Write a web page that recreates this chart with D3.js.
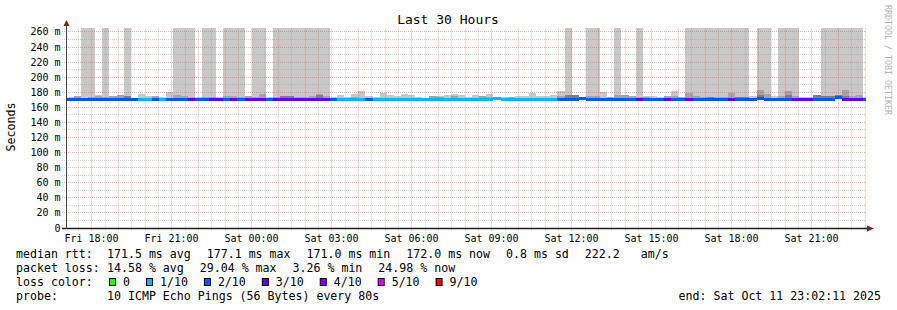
<!DOCTYPE html>
<html><head><meta charset="utf-8">
<script src="https://cdn.jsdelivr.net/npm/d3@7"></script>
<style>
body{margin:0;background:#fff}
svg{display:block}
text{font-family:"DejaVu Sans Mono",monospace;fill:#000}
</style>
</head><body>
<svg id="c" width="897" height="310"></svg>
<script>
// ---------- data ----------
const chartTitle = "Last 30 Hours";
const yAxisTitle = "Seconds";
const watermark = "RRDTOOL / TOBI OETIKER";
const startTime = new Date(2025, 9, 10, 17, 2, 11);
const endTime = new Date(2025, 9, 11, 23, 2, 11);
const firstColumnTime = new Date(2025, 9, 10, 17, 4, 0);
const columnMinutes = 16;

const yTickValues = [0, 20, 40, 60, 80, 100, 120, 140, 160, 180, 200, 220, 240, 260];
const yTickLabels = ["0", "20 m", "40 m", "60 m", "80 m", "100 m", "120 m", "140 m", "160 m", "180 m", "200 m", "220 m", "240 m", "260 m"];
const xTickTimes = [
  new Date(2025, 9, 10, 18), new Date(2025, 9, 10, 21), new Date(2025, 9, 11, 0),
  new Date(2025, 9, 11, 3), new Date(2025, 9, 11, 6), new Date(2025, 9, 11, 9),
  new Date(2025, 9, 11, 12), new Date(2025, 9, 11, 15), new Date(2025, 9, 11, 18),
  new Date(2025, 9, 11, 21)];
const xTickLabels = ["Fri 18:00", "Fri 21:00", "Sat 00:00", "Sat 03:00", "Sat 06:00", "Sat 09:00",
  "Sat 12:00", "Sat 15:00", "Sat 18:00", "Sat 21:00"];

// smoke (ms): lowest ping, outer / middle / inner upper ping levels per 16-min column
const smokeBase = 171.0;
const smokeOuter = [
  174,175,300,300,177,300,175,176.4,300,172, 178,175,175,174,180.4,300,300,300,174,300,
  300,174,300,300,300,175,300,300,174,300, 300,300,300,300,300,300,300,174,176.4,174,
  178,181.7,175,174,179,176.4,175,178,176.4,174, 173,175,175,176.4,178,176.4,174,176.4,175,178,
  174,174,174,175,175,179,175,175,176.4,181.7, 300,176.4,174,300,300,180.4,174,300,176.4,175,
  300,175,175,174,175,181.7,174,300,300,300, 300,300,300,300,300,300,175,300,300,175,
  300,300,300,174,174,176.4,300,300,300,300, 300,300,174];
const smokeMiddle = [
  171,175,173,174,175,174,175,176.4,174,171, 171,171,175,171,173,176.4,175,174,171,174,
  174,171,175,175,174,175,174,177.8,171,174, 175,175,174,174,175,178,175,171,171,171,
  174,171,171,171,171,171,171,171,171,171, 171,175,174,171,175,171,171,171,175,174,
  171,171,174,171,171,171,171,171,171,175, 176.4,176.4,171,175,175,171,174,176.4,176.4,175,
  174,174,171,171,175,175,174,179,175,174, 174,174,173.5,179,174,174,171,183,177.8,171,
  175,181.7,175,171,171,176.4,175,175,176.4,183, 175,176.4,171];
const smokeInner = [
  171,171,171,171,171,171,171,171,174.5,171, 171,171,171,171,171,171,171,171,171,171,
  171,171,171,171,171,171,171,171,171,171, 175,175,171,171,171,176,171,171,171,171,
  171,171,171,171,171,171,171,171,171,171, 171,171,171,171,171,171,171,171,171,171,
  171,171,171,171,171,171,171,171,171,171, 176.4,176.4,171,171,171,171,171,171,171,171,
  171,171,171,171,171,171,171,171,171,171, 174,171,171,171,174,174,171,176,171,171,
  171,176.4,171,171,171,176.4,175,175,176.4,175, 171,171,171];
const medianMs = [
  171.5,171.5,171.5,171.5,171.5,171.5,171.5,171.5,171.5,171.5, 171.5,171.5,171.5,171.5,171.5,171.5,171.5,171.5,171.5,171.5,
  171.5,171.5,171.5,171.5,171.5,171.5,171.5,171.0,171.5,171.5, 171.5,171.5,171.5,171.5,171.5,171.5,171.5,171.5,171.5,171.5,
  171.5,171.5,171.5,171.5,171.5,171.5,171.5,171.5,171.5,171.5, 171.5,171.5,171.5,171.5,171.5,171.5,171.5,171.5,171.5,171.5,
  172.3,171.5,171.5,171.5,171.5,171.5,171.5,171.5,171.5,171.5, 171.5,171.5,172.3,171.5,171.5,171.5,171.5,171.5,171.5,171.5,
  171.5,171.5,171.5,171.5,171.0,171.5,171.5,171.5,171.5,171.5, 171.5,171.5,171.5,171.5,171.5,171.5,171.5,172.3,171.5,171.5,
  171.5,171.5,171.5,171.5,171.5,171.5,171.5,171.5,174.0,171.5, 171.5,171.5,171.5];
const lossTenths = [
  2,2,2,2,2,2,2,2,2,2, 1,1,2,1,2,2,2,3,2,2,
  3,3,2,3,2,3,3,3,2,3, 3,3,3,3,3,3,3,2,1,1,
  1,1,2,1,1,1,1,1,1,1, 1,1,1,1,1,1,1,1,1,1,
  1,1,1,1,1,1,1,1,1,2, 2,2,2,2,2,2,2,2,2,2,
  3,2,2,2,3,2,2,3,2,2, 2,2,2,3,2,2,2,2,2,2,
  2,2,3,3,3,2,2,2,2,3, 3,3,2];

const lossLevels = [0, 1, 2, 3, 4, 5, 9];
const lossLabels = ["0", "1/10", "2/10", "3/10", "4/10", "5/10", "9/10"];
const lossColors = ["#26ff00", "#00b8ff", "#0059ff", "#5e00ff", "#7e00ff", "#dd00ff", "#ff0000"];

const rttStats = [171.5, 177.1, 171.0, 172.0];
const rttSd = 0.8;
const rttAmS = 222.2;
const lossStats = [14.58, 29.04, 3.26, 24.98];
const statNames = ["avg", "max", "min", "now"];
const probeText = "10 ICMP Echo Pings (56 Bytes) every 80s";
const endText = "end: Sat Oct 11 23:02:11 2025";

// ---------- drawing ----------
const svg = d3.select("#c");
const X0 = 66, X1 = 866, YTOP = 28, YBOT = 228;
const x = d3.scaleTime().domain([startTime, endTime]).range([X0, X1]);
const y = d3.scaleLinear().domain([0, 265.3]).range([YBOT, YTOP]);
const px = v => Math.floor(v) + 0.5;

svg.append("defs").append("clipPath").attr("id", "plot")
  .append("rect").attr("x", X0).attr("y", YTOP).attr("width", X1 - X0).attr("height", YBOT - YTOP);

const cols = medianMs.map((m, i) => {
  const t0 = d3.timeMinute.offset(firstColumnTime, i * columnMinutes);
  const t1 = d3.timeMinute.offset(firstColumnTime, (i + 1) * columnMinutes);
  return {x0: x(t0), x1: x(t1), m, loss: lossTenths[i],
    outer: smokeOuter[i], middle: smokeMiddle[i], inner: smokeInner[i]};
});

const gData = svg.append("g").attr("clip-path", "url(#plot)");
const shades = [["outer", "#c8c8c8"], ["middle", "#a4a4a4"], ["inner", "#7e7e7e"]];
shades.forEach(([key, col]) => {
  gData.append("g").selectAll("rect").data(cols.filter(d => d[key] > smokeBase)).join("rect")
    .attr("x", d => d.x0).attr("width", d => d.x1 - d.x0)
    .attr("y", d => Math.max(YTOP, y(d[key])))
    .attr("height", d => y(smokeBase) - Math.max(YTOP, y(d[key])))
    .attr("fill", col).attr("shape-rendering", "crispEdges");
});

// grid
const gGrid = svg.append("g");
const minorCol = "rgba(143,143,143,0.4)", majorCol = "rgba(222,79,79,0.45)";
d3.range(10, 261, 10).forEach(v => {
  const major = v % 20 === 0;
  gGrid.append("line").attr("x1", 62).attr("x2", X1).attr("y1", px(y(v))).attr("y2", px(y(v)))
    .attr("stroke", major ? majorCol : minorCol).attr("stroke-dasharray", "1,1");
});
const halfHours = d3.timeMinute.every(30).range(startTime, d3.timeMinute.offset(endTime, 1));
halfHours.forEach(t => {
  const major = t.getMinutes() === 0;
  gGrid.append("line").attr("x1", px(x(t))).attr("x2", px(x(t))).attr("y1", YTOP + 0.5).attr("y2", YBOT + 3)
    .attr("stroke", major ? majorCol : minorCol).attr("stroke-dasharray", "1,1");
});

// median line coloured by loss
svg.append("g").attr("clip-path", "url(#plot)").selectAll("rect").data(cols).join("rect")
  .attr("x", d => d.x0).attr("width", d => d.x1 - d.x0)
  .attr("y", d => y(d.m) - 1).attr("height", 3)
  .attr("fill", d => lossColors[lossLevels.indexOf(d.loss)])
  .attr("shape-rendering", "crispEdges");

// axes
svg.append("line").attr("x1", 62).attr("x2", 868).attr("y1", 228.5).attr("y2", 228.5)
  .attr("stroke", "#1f1f1f").attr("stroke-width", 1.6);
svg.append("line").attr("x1", 66.5).attr("x2", 66.5).attr("y1", 229).attr("y2", 24)
  .attr("stroke", "#444").attr("stroke-width", 1);
svg.append("path").attr("d", "M63.5,26L69.5,26L66.5,20Z").attr("fill", "#801f1f");
svg.append("path").attr("d", "M867,225.5L867,231.5L874,228.5Z").attr("fill", "#801f1f");

// y tick labels
svg.append("g").selectAll("text").data(yTickValues).join("text")
  .attr("x", 60.5).attr("y", d => px(y(d)) + 3.5).attr("text-anchor", "end")
  .attr("font-size", 10).text((d, i) => yTickLabels[i]);
// x tick labels
svg.append("g").selectAll("text").data(xTickTimes).join("text")
  .attr("x", d => px(x(d))).attr("y", 241.5).attr("text-anchor", "middle")
  .attr("font-size", 10).text((d, i) => xTickLabels[i]);

// titles
svg.append("text").attr("x", 448).attr("y", 24).attr("text-anchor", "middle")
  .attr("font-size", 13).text(chartTitle);
svg.append("text").attr("transform", "translate(15,127) rotate(-90)").attr("text-anchor", "middle")
  .attr("font-size", 11.6).text(yAxisTitle);
svg.append("text").attr("transform", "translate(885,5) rotate(90)")
  .attr("font-size", 8.3).style("fill", "#b4b4b4").text(watermark);

// legend
const CW = 6.98, GAP = 16, LX = 16, VX = 107;
const fs = 11.6;
function row(yb, label, items) {
  svg.append("text").attr("x", LX).attr("y", yb).attr("font-size", fs).text(label);
  let cx = VX;
  items.forEach(s => {
    svg.append("text").attr("x", cx).attr("y", yb).attr("font-size", fs)
      .style("white-space", "pre").text(s);
    cx += s.length * CW + GAP;
  });
}
row(258.3, "median rtt:", rttStats.map((v, i) => `${v.toFixed(1)} ms ${statNames[i]}`)
  .concat([`${rttSd.toFixed(1)} ms sd`, `${rttAmS.toFixed(1)}   am/s`]));
row(272, "packet loss:", lossStats.map((v, i) => `${v.toFixed(2)} % ${statNames[i]}`));
// loss colours
svg.append("text").attr("x", LX).attr("y", 286.3).attr("font-size", fs).text("loss color:");
let lx = 109;
lossLabels.forEach((lab, i) => {
  svg.append("rect").attr("x", lx + 0.5).attr("y", 278.5).attr("width", 6).attr("height", 7)
    .attr("fill", lossColors[i]).attr("stroke", "#000").attr("stroke-width", 1);
  svg.append("text").attr("x", lx + 14).attr("y", 286.3).attr("font-size", fs).text(lab);
  lx += 14 + lab.length * CW + GAP;
});
svg.append("text").attr("x", LX).attr("y", 300).attr("font-size", fs).text("probe:");
svg.append("text").attr("x", VX).attr("y", 300).attr("font-size", fs).text(probeText);
svg.append("text").attr("x", 881).attr("y", 300).attr("text-anchor", "end").attr("font-size", fs).text(endText);
</script>
</body></html>
